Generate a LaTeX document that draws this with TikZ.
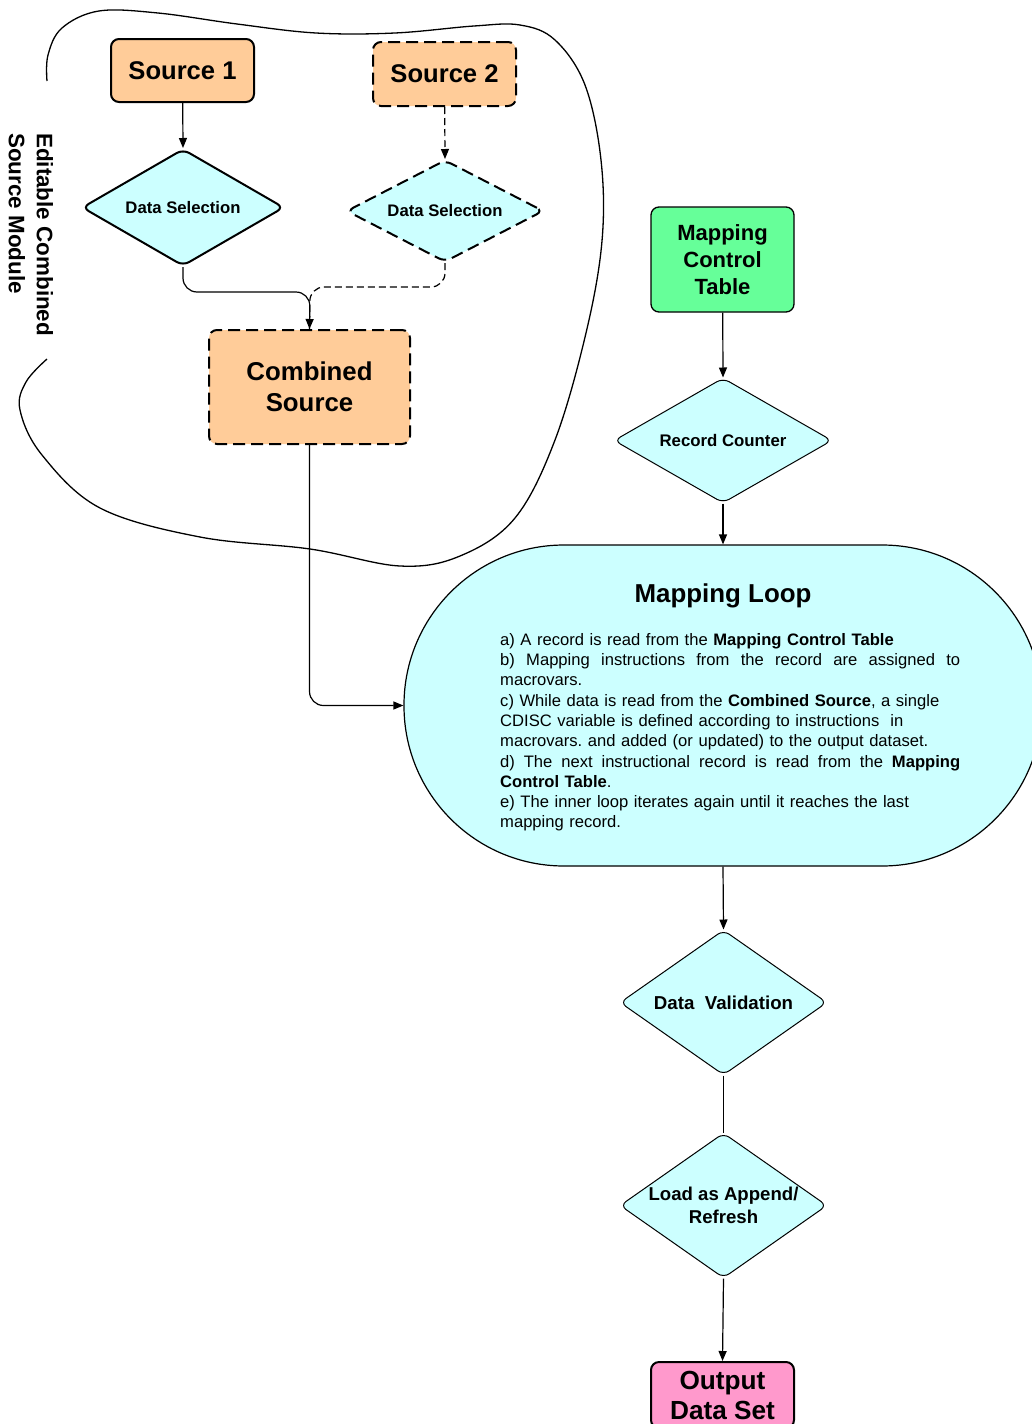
\documentclass[tikz,border=0pt]{standalone}
\usepackage{fontspec}
\setmainfont{Liberation Sans}
\usetikzlibrary{shapes.geometric,arrows.meta}
\definecolor{peach}{HTML}{FFCC99}
\definecolor{lcyan}{HTML}{CCFFFF}
\definecolor{mgreen}{HTML}{66FF99}
\definecolor{mpink}{HTML}{FF99CC}
\newcommand\myfs[2]{\fontsize{#1pt}{#2pt}\selectfont}
\newcommand\jsp{\hskip 0.28em plus 1fil\relax}
\newcommand\jline[1]{\leavevmode\hbox to 460pt{#1}}
\frenchspacing
\begin{document}
\begin{tikzpicture}[x=1pt,y=-1pt,
  box/.style={draw, line width=2pt, rounded corners=8pt, fill=peach, align=center, inner sep=0pt},
  dsh/.style={dash pattern=on 12pt off 6pt},
  dia/.style={diamond, draw, fill=lcyan, rounded corners=7pt, inner sep=0pt, line width=1pt},
  conn/.style={line width=1.2pt, -{Triangle[length=10pt,width=8pt]}},
  plain/.style={line width=1.2pt},
  dconn/.style={line width=1.2pt, dash pattern=on 7pt off 4pt}]
\useasboundingbox (0,0) rectangle (1032,1424);

% blob outline
\draw[line width=1.3pt] plot[smooth, tension=0.6] coordinates {(47,81) (48,55) (62,28) (99,11) (158,13) (237,24) (316,33) (395,33) (474,26) (520,25) (555,40) (585,85) (601,160) (602,241) (586,333) (555,440) (515,518) (460,556) (400,566) (310,549) (200,537) (100,508) (42,455) (20,410) (26,382) (47,359)};

\node[rotate=-90, anchor=west, align=left, inner sep=0pt, font=\myfs{22.4}{28}\bfseries] (lbl) at (31,133) {Editable Combined\\Source Module};

% nodes
\node[box, minimum width=143pt, minimum height=63pt, font=\myfs{25.6}{31}\bfseries] (s1) at (182.5,70.5) {Source 1};
\node[box, dsh, minimum width=143pt, minimum height=64pt, font=\myfs{25.6}{31}\bfseries] (s2) at (444.5,74) {Source 2};
\node[dia, line width=2pt, minimum width=202pt, minimum height=117pt,
  label={[font=\myfs{16.7}{20}\bfseries]center:Data Selection}] (ds1) at (183,207.5) {};
\node[dia, line width=2pt, dsh, minimum width=197pt, minimum height=102pt,
  label={[font=\myfs{16.7}{20}\bfseries]center:Data Selection}] (ds2) at (445,211) {};
\node[box, dsh, minimum width=201pt, minimum height=114pt, font=\myfs{25.8}{31}\bfseries] (comb) at (309.5,387) {Combined\\Source};

\node[box, fill=mgreen, line width=1.3pt, minimum width=143pt, minimum height=105pt, font=\myfs{22}{27}\bfseries] (mct) at (722.5,259.5) {Mapping\\Control\\Table};
\node[dia, minimum width=218pt, minimum height=125pt,
  label={[font=\myfs{16.8}{20}\bfseries]center:Record Counter}] (rc) at (723,440.5) {};

\node[draw, fill=lcyan, line width=1.2pt, rounded corners=160pt, minimum width=638pt, minimum height=321pt, inner sep=0pt] (loop) at (723,705.5) {};
\node[font=\myfs{25.9}{31}\bfseries, inner sep=0pt] (title) at (723,596) {Mapping Loop};
\node[anchor=north west, inner sep=0pt, text width=460pt, align=left, font=\myfs{16.6}{20.3}] (body) at (500,633) {a) A record is read from the \textbf{Mapping Control Table}\\
\jline{b)\jsp Mapping\jsp instructions\jsp from\jsp the\jsp record\jsp are\jsp assigned\jsp to}\\
macrovars.\\
c) While data is read from the \textbf{Combined Source}, a single\\
CDISC variable is defined according to instructions\ \ in\\
macrovars. and added (or updated) to the output dataset.\\
\jline{d)\jsp The\jsp next\jsp instructional\jsp record\jsp is\jsp read\jsp from\jsp the\jsp \textbf{Mapping}}\\
\textbf{Control Table}.\\
e) The inner loop iterates again until it reaches the last\\
mapping record.};

\node[dia, minimum width=207pt, minimum height=145pt,
  label={[font=\myfs{18.7}{23}\bfseries]center:Data\ \ Validation}] (dv) at (723.5,1002.5) {};
\node[dia, minimum width=207pt, minimum height=145pt,
  label={[font=\myfs{18.6}{23}\bfseries, align=center]center:Load as Append/\\Refresh}] (la) at (723.5,1205.5) {};
\node[box, fill=mpink, minimum width=143pt, minimum height=66pt, font=\myfs{26.2}{30}\bfseries] (out) at (722.5,1395) {Output\\Data Set};

% connectors
\coordinate (j1) at (310,292);
\coordinate (j2) at (310,287);
\draw[conn] (s1) -- (ds1.north);
\draw[dconn, -{Triangle[length=10pt,width=8pt]}] (s2) -- (ds2.north);
\draw[dconn, rounded corners=14pt] (ds2.south) |- (j2) -- (comb.north);
\draw[conn, rounded corners=14pt] (ds1.south) |- (j1) -- (comb.north);
\draw[conn, rounded corners=14pt] (comb.south) |- (loop.west);
\draw[conn] (mct) -- (rc.north);
\draw[conn] (rc.south) -- (loop.north);
\draw[conn] (loop.south) -- (dv.north);
\draw[plain] (dv.south) -- (la.north);
\draw[conn] (la.south) -- (out.north);
\end{tikzpicture}
\end{document}
